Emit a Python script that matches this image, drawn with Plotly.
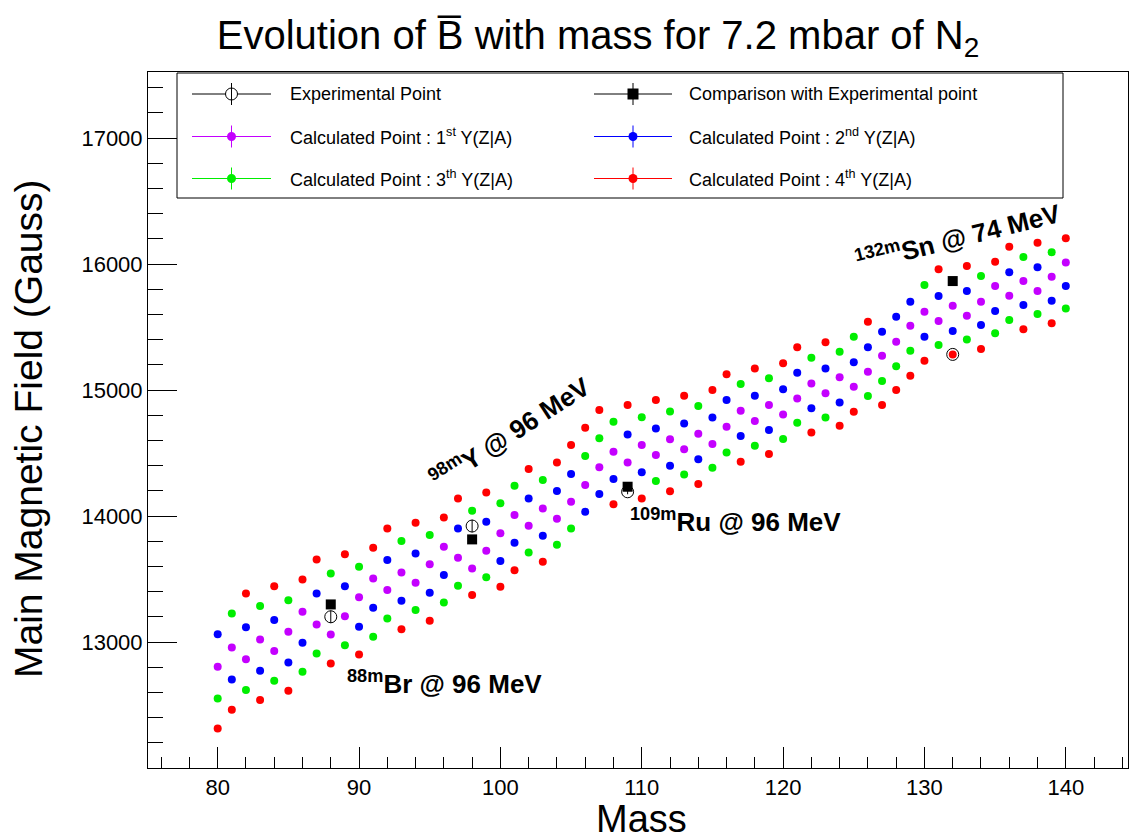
import plotly.graph_objects as go

# ---------------- data ----------------
mass = list(range(80, 141))

# Calculated points (Gauss) for the 1st..4th most probable Y(Z|A)
b_first = [12804, 12958, 12863, 13021, 12929, 13082, 13241, 13140, 13061, 13206,
           13355, 13505, 13413, 13553, 13471, 13617, 13757, 13669, 13585, 13725,
           13863, 14008, 13923, 14061, 13979, 14114, 14246, 14387, 14511, 14426,
           14564, 14484, 14610, 14530, 14653, 14572, 14709, 14836, 14754, 14881,
           14807, 14934, 15053, 14974, 15101, 15026, 15145, 15272, 15383, 15511,
           15622, 15548, 15669, 15590, 15701, 15826, 15749, 15865, 15786, 15899, 16012]
b_second = [13063, 12704, 13117, 12772, 13175, 12839, 12995, 13386, 13299, 13444,
            13122, 13272, 13651, 13328, 13704, 13391, 13532, 13902, 13815, 13955,
            13643, 13788, 14140, 13844, 14200, 14333, 14034, 14175, 14294, 14648,
            14347, 14696, 14399, 14735, 14451, 14783, 14921, 14635, 14955, 14683,
            15006, 15138, 14855, 15172, 14902, 15220, 15339, 15462, 15582, 15701,
            15423, 15746, 15468, 15786, 15516, 15627, 15934, 15675, 15974, 15709, 15826]
b_third = [12553, 13228, 12619, 13286, 12693, 13333, 12765, 12910, 13545, 12976,
           13598, 13042, 13188, 13802, 13254, 13849, 13315, 13447, 14042, 13514,
           14101, 14241, 13712, 14286, 13772, 13902, 14476, 14617, 14749, 14233,
           14785, 14278, 14829, 14331, 14873, 14384, 14505, 15048, 14558, 15093,
           14611, 14741, 15257, 14783, 15304, 15423, 14953, 15072, 15190, 15312,
           15834, 15357, 15865, 15402, 15905, 15450, 15556, 16056, 15603, 16093, 15647]
b_fourth = [12315, 12463, 13386, 12540, 13444, 12614, 13497, 13656, 12831, 13698,
            12902, 13749, 13902, 13103, 13947, 13169, 13989, 14140, 13373, 14188,
            13439, 13571, 14373, 13637, 14425, 14564, 14701, 14841, 14093, 14881,
            14140, 14921, 14198, 14955, 14254, 15000, 15126, 14431, 15172, 14492,
            15212, 15339, 14664, 15379, 14717, 14828, 15542, 14881, 15000, 15114,
            15233, 15958, 15283, 15984, 15326, 16018, 16138, 15482, 16170, 15530, 16205]

# Experimental points and the matching calculated values
exp_mass = [88, 98, 109, 132]
exp_b = [13201, 13921, 14193, 15283]
exp_err = [50, 50, 20, 0]
cmp_b = [13299, 13815, 14233, 15865]

# isotope labels
iso_text = ["<sup>88m</sup>Br @ 96 MeV", "<sup>98m</sup>Y @ 96 MeV",
            "<sup>109m</sup>Ru @ 96 MeV", "<sup>132m</sup>Sn @ 74 MeV"]
iso_x = [89.0, 100.64, 109.03, 132.4]
iso_y = [12683, 14667, 13968, 16222]
iso_angle = [0, -33, 0, -14]
iso_anchor = ["left", "center", "left", "center"]

legend_labels = ["Experimental Point", "Comparison with Experimental point",
                 "Calculated Point : 1<sup>st</sup> Y(Z|A)", "Calculated Point : 2<sup>nd</sup> Y(Z|A)",
                 "Calculated Point : 3<sup>th</sup> Y(Z|A)", "Calculated Point : 4<sup>th</sup> Y(Z|A)"]

# ---------------- style ----------------
FONT = "Liberation Sans, Arial, Helvetica, sans-serif"
C_FIRST, C_SECOND, C_THIRD, C_FOURTH = "#c400ff", "#0000ff", "#00ee00", "#ff0000"
W, H = 1130, 840
L, R, T, B = 148, 2, 72, 72
PW, PH = W - L - R, H - T - B

def px(xp):
    return (xp - L) / PW

def py(yp):
    return (H - B - yp) / PH

fig = go.Figure()
for vals, col in [(b_first, C_FIRST), (b_second, C_SECOND), (b_third, C_THIRD), (b_fourth, C_FOURTH)]:
    fig.add_trace(go.Scatter(x=mass, y=vals, mode="markers", showlegend=False,
                             marker=dict(symbol="circle", size=8, color=col, line=dict(width=0))))

fig.add_trace(go.Scatter(x=exp_mass, y=exp_b, mode="markers", showlegend=False,
                         error_y=dict(type="data", array=exp_err, color="black", thickness=1, width=0),
                         marker=dict(symbol="circle-open", size=12, color="black", line=dict(width=1))))
fig.add_trace(go.Scatter(x=exp_mass, y=cmp_b, mode="markers", showlegend=False,
                         marker=dict(symbol="square", size=10, color="black")))

annotations = []
for t, x, y, a, anc in zip(iso_text, iso_x, iso_y, iso_angle, iso_anchor):
    annotations.append(dict(x=x, y=y, xref="x", yref="y", text=t, showarrow=False,
                            textangle=a, xanchor=anc, yanchor="middle",
                            font=dict(family=FONT, size=26, color="black", weight="bold")))

# axis titles
annotations.append(dict(x=px(641), y=py(819), xref="paper", yref="paper", text="Mass",
                        showarrow=False, xanchor="center", yanchor="middle",
                        font=dict(family=FONT, size=38, color="black")))
annotations.append(dict(x=px(28), y=py(429), xref="paper", yref="paper",
                        text="Main Magnetic Field (Gauss)", textangle=-90,
                        showarrow=False, xanchor="center", yanchor="middle",
                        font=dict(family=FONT, size=39, color="black")))

# ---------------- manual legend ----------------
shapes = [dict(type="rect", xref="paper", yref="paper", x0=px(177), x1=px(1063), y0=py(198), y1=py(73),
               line=dict(color="black", width=1), fillcolor="white", layer="above")]
rows = [94, 136.5, 178.5]
cols = [(192, 271, 231.5, 288), (594, 672, 633, 687)]
leg_style = [("circ", "black"), ("sq", "black"), ("dot", C_FIRST), ("dot", C_SECOND), ("dot", C_THIRD), ("dot", C_FOURTH)]
for i, (lab, (kind, col)) in enumerate(zip(legend_labels, leg_style)):
    r, c = divmod(i, 2)
    x0, x1, xm, xt = cols[c]
    yc = rows[r]
    shapes.append(dict(type="line", xref="paper", yref="paper", x0=px(x0), x1=px(x1), y0=py(yc), y1=py(yc),
                       line=dict(color=col, width=1), layer="above"))
    shapes.append(dict(type="line", xref="paper", yref="paper", x0=px(xm), x1=px(xm), y0=py(yc - 11), y1=py(yc + 11),
                       line=dict(color=col, width=1), layer="above"))
    if kind == "circ":
        shapes.append(dict(type="circle", xref="paper", yref="paper", xsizemode="pixel", ysizemode="pixel",
                           xanchor=px(xm), yanchor=py(yc), x0=-6, x1=6, y0=-6, y1=6,
                           line=dict(color="black", width=1), fillcolor="white", layer="above"))
        shapes.append(dict(type="line", xref="paper", yref="paper", x0=px(xm), x1=px(xm), y0=py(yc - 6), y1=py(yc + 6),
                           line=dict(color=col, width=1), layer="above"))
    elif kind == "sq":
        shapes.append(dict(type="rect", xref="paper", yref="paper", xsizemode="pixel", ysizemode="pixel",
                           xanchor=px(xm), yanchor=py(yc), x0=-5.5, x1=5.5, y0=-5.5, y1=5.5,
                           line=dict(color="black", width=0), fillcolor="black", layer="above"))
    else:
        shapes.append(dict(type="circle", xref="paper", yref="paper", xsizemode="pixel", ysizemode="pixel",
                           xanchor=px(xm), yanchor=py(yc), x0=-4.5, x1=4.5, y0=-4.5, y1=4.5,
                           line=dict(color=col, width=0), fillcolor=col, layer="above"))
    annotations.append(dict(x=px(xt), y=py(yc), xref="paper", yref="paper", text=lab, showarrow=False,
                            xanchor="left", yanchor="middle",
                            font=dict(family=FONT, size=18, color="black")))

fig.update_layout(
    width=W, height=H, margin=dict(l=L, r=R, t=T, b=B, autoexpand=False),
    paper_bgcolor="white", plot_bgcolor="white",
    title=dict(text="Evolution of B\u0305 with mass for 7.2 mbar of N<sub>2</sub>",
               x=px(598), xref="paper", xanchor="center",
               y=1 - 35 / H, yref="container", yanchor="middle",
               font=dict(family=FONT, size=40, color="black")),
    showlegend=False,
    shapes=shapes, annotations=annotations,
    xaxis=dict(range=[75.07, 144.4], showgrid=False, zeroline=False, showline=True, mirror=True,
               linecolor="black", linewidth=1, ticks="inside", ticklen=21, tickcolor="black",
               tick0=0, dtick=10, tickformat="d", tickfont=dict(family=FONT, size=22, color="black"),
               minor=dict(ticks="inside", ticklen=11, dtick=2, tick0=0, tickcolor="black", showgrid=False),
               automargin=False),
    yaxis=dict(range=[12001, 17524], showgrid=False, zeroline=False, showline=True, mirror=True,
               linecolor="black", linewidth=1, ticks="inside", ticklen=29, tickcolor="black",
               tick0=0, dtick=1000, tickformat="d", tickfont=dict(family=FONT, size=22, color="black"),
               minor=dict(ticks="inside", ticklen=15, dtick=200, tick0=0, tickcolor="black", showgrid=False),
               automargin=False),
)

fig.write_html("out.html", config={"displayModeBar": False},
               post_script="document.body.style.margin='0px';document.body.style.overflow='hidden';")
